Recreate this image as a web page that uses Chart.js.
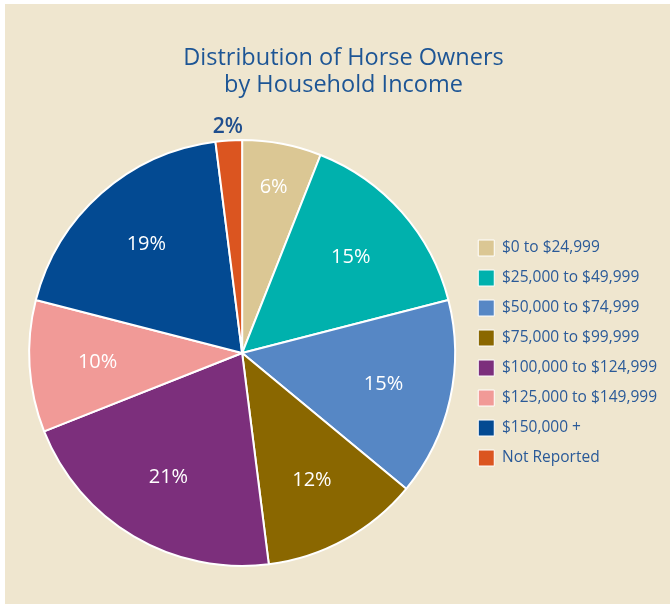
<!DOCTYPE html>
<html>
<head>
<meta charset="utf-8">
<script src="https://cdn.jsdelivr.net/npm/chart.js@4"></script>
<style>
  html, body { margin: 0; padding: 0; background: #ffffff; }
  #frame {
    position: absolute; left: 5px; top: 4px;
    width: 665px; height: 600px;
    background: #EFE6CF;
  }
</style>
</head>
<body>
<div id="frame"><canvas id="chart" width="665" height="600"></canvas></div>
<script>
// 收入分組
const incomeLabels = [
  '$0 to $24,999',
  '$25,000 to $49,999',
  '$50,000 to $74,999',
  '$75,000 to $99,999',
  '$100,000 to $124,999',
  '$125,000 to $149,999',
  '$150,000 +',
  'Not Reported'
];
// 百分比
const ownerShares = [6, 15, 15, 12, 21, 10, 19, 2];
const sliceColors = ['#DBC794', '#00B1AD', '#5687C5', '#8A6700', '#7C2F7C', '#F19A97', '#034A92', '#DB5520'];

// 扇形內的百分比標籤（窄扇形放外圈一點，極小的放在圓外）
const sliceLabels = {
  id: 'sliceLabels',
  afterDatasetsDraw(chart) {
    const ctx = chart.ctx;
    const meta = chart.getDatasetMeta(0);
    ctx.save();
    ctx.textAlign = 'center';
    ctx.textBaseline = 'middle';
    meta.data.forEach((arc, i) => {
      const v = chart.data.datasets[0].data[i];
      const mid = (arc.startAngle + arc.endAngle) / 2;
      const outside = v < 4;
      let k = 0.68;
      if (outside) k = 1.065;
      else if (v < 10) k = 0.79;
      const r = arc.outerRadius * k;
      ctx.font = outside ? '600 21px "Open Sans"' : '20px "Open Sans"';
      ctx.fillStyle = outside ? '#1F4E8E' : '#ffffff';
      ctx.fillText(v + '%', arc.x + Math.cos(mid) * r, arc.y + Math.sin(mid) * r);
    });
    ctx.restore();
  }
};

new Chart(document.getElementById('chart'), {
  type: 'pie',
  data: {
    labels: incomeLabels,
    datasets: [{
      data: ownerShares,
      backgroundColor: sliceColors,
      borderColor: '#ffffff',
      borderWidth: 2
    }]
  },
  options: {
    responsive: false,
    animation: false,
    layout: { padding: { left: 15, right: 3, top: 0, bottom: 37 } },
    plugins: {
      title: {
        display: true,
        text: ['Distribution of Horse Owners', 'by Household Income'],
        color: '#1D5595',
        font: { family: 'Open Sans', size: 23.5, weight: 'normal', lineHeight: 1.15 },
        padding: { top: 41, bottom: 40 }
      },
      legend: {
        position: 'right',
        fullSize: false,
        labels: {
          color: '#2A5A98',
          font: { family: 'Open Sans', size: 15.5 },
          boxWidth: 16,
          boxHeight: 16,
          padding: 14,
          generateLabels(chart) {
            return chart.data.labels.map((l, i) => ({
              text: l,
              fillStyle: sliceColors[i],
              strokeStyle: '#ffffff',
              lineWidth: 1,
              fontColor: '#2A5A98',
              index: i
            }));
          }
        }
      },
      tooltip: { enabled: false }
    }
  },
  plugins: [sliceLabels]
});
</script>
</body>
</html>
